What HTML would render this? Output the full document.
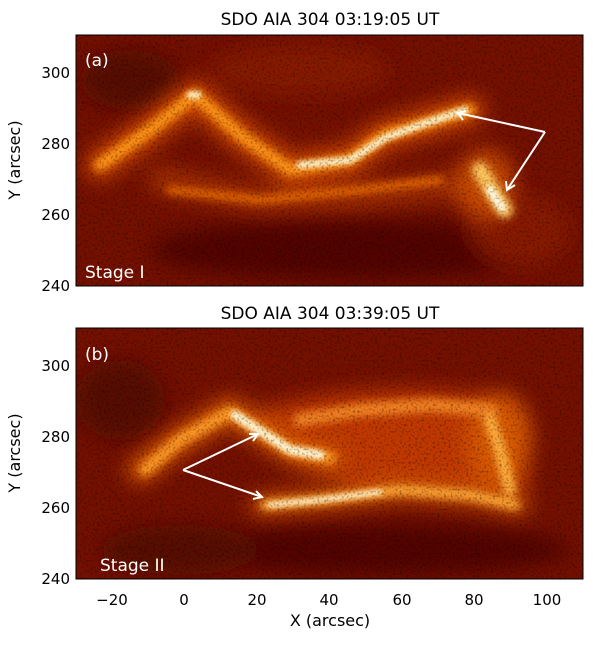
<!DOCTYPE html>
<html><head><style>
body{margin:0;background:#fff;width:600px;height:642px;overflow:hidden;font-family:"DejaVu Sans","Liberation Sans",sans-serif}
</style></head><body>
<svg width="600" height="642" viewBox="0 0 600 642" xmlns="http://www.w3.org/2000/svg" font-family="DejaVu Sans, Liberation Sans, sans-serif">
<defs>
<filter id="b4" filterUnits="userSpaceOnUse" x="0" y="0" width="600" height="642"><feGaussianBlur stdDeviation="4"/></filter>
<filter id="b8" filterUnits="userSpaceOnUse" x="0" y="0" width="600" height="642"><feGaussianBlur stdDeviation="10"/></filter>
<filter id="b2" filterUnits="userSpaceOnUse" x="0" y="0" width="600" height="642"><feGaussianBlur stdDeviation="2.5"/></filter>
<filter id="noise" x="0" y="0" width="100%" height="100%">
<feTurbulence type="fractalNoise" baseFrequency="0.45" numOctaves="1" seed="3"/>
<feColorMatrix values="0 0 0 0 0  0 0 0 0 0  0 0 0 0 0  0 0 0 -1.2 0.6"/>
</filter>
<clipPath id="ca"><rect x="76" y="35" width="507" height="251"/></clipPath>
<clipPath id="cb"><rect x="76" y="328" width="507" height="251"/></clipPath>
</defs>

<g clip-path="url(#ca)">
<rect x="76" y="35" width="507" height="251" fill="#741000"/>
<g filter="url(#b8)" opacity="0.8">
<ellipse cx="350" cy="250" rx="200" ry="30" fill="#4a0600"/>
<ellipse cx="130" cy="80" rx="50" ry="30" fill="#500700"/>
<ellipse cx="300" cy="70" rx="90" ry="25" fill="#8a1c00"/>
<ellipse cx="520" cy="230" rx="50" ry="35" fill="#8c1e00"/>
</g>
<g filter="url(#b8)" fill="none" stroke-linecap="round" stroke-linejoin="round">
<polyline points="100,165 150,130 195,95 240,135 290,170 350,160 385,135 420,125 470,110" stroke="#d04a00" stroke-width="30"/>
<polyline points="160,180 260,200 360,195 450,185" stroke="#a83000" stroke-width="24"/>
<ellipse cx="485" cy="185" rx="30" ry="36" fill="#c84800" stroke="none"/>
</g>
<g filter="url(#b4)" fill="none" stroke-linecap="round" stroke-linejoin="round">
<polyline points="100,165 150,130 195,95 240,135 290,170 350,160 385,135 420,125 470,110" stroke="#ff9418" stroke-width="12"/>
<polyline points="170,190 260,200 360,190 440,180" stroke="#f07000" stroke-width="7"/>
<polyline points="480,170 495,195 505,210" stroke="#ffc860" stroke-width="16"/>
</g>
<g filter="url(#b2)" fill="none" stroke-linecap="round">
<polyline points="300,165 350,160 385,138 420,125 465,110" stroke="#fff2c8" stroke-width="7"/>
<polyline points="190,95 198,95" stroke="#fff0c0" stroke-width="7"/>
<polyline points="490,190 502,208" stroke="#fff8e0" stroke-width="8"/>
</g>
<rect x="76" y="35" width="507" height="251" filter="url(#noise)" fill="#200000"/>
</g>
<rect x="76" y="35" width="507" height="251" fill="none" stroke="#000" stroke-width="1"/>
<g stroke="#fff" stroke-width="2" fill="none">
<polyline points="545,132 458,113"/><polyline points="466,111 458,113 463,120"/>
<polyline points="545,132 507,190"/><polyline points="506,181 507,190 515,185"/>
</g>
<text x="85" y="66" fill="#fff" font-size="17">(a)</text>
<text x="85" y="278" fill="#fff" font-size="17">Stage I</text>
<text x="330" y="25" text-anchor="middle" font-size="17">SDO AIA 304  03:19:05 UT</text>

<g clip-path="url(#cb)">
<rect x="76" y="328" width="507" height="251" fill="#741000"/>
<g filter="url(#b8)" opacity="0.8">
<ellipse cx="120" cy="400" rx="45" ry="40" fill="#500700"/>
<ellipse cx="380" cy="550" rx="190" ry="25" fill="#4a0600"/>
<ellipse cx="180" cy="550" rx="80" ry="25" fill="#500700"/>
</g>
<g filter="url(#b8)" fill="none" stroke-linecap="round" stroke-linejoin="round">
<path d="M230,420 C300,390 420,380 520,400 L530,490 L420,500 L300,470 Z" fill="#c03800" stroke="none"/>
<polyline points="140,470 180,440 230,410 290,450 330,460" stroke="#d85800" stroke-width="26"/>
<polyline points="260,505 320,500 400,490 470,495 520,505" stroke="#d05400" stroke-width="20"/>
<ellipse cx="500" cy="440" rx="32" ry="48" fill="#d85800" stroke="none"/>
</g>
<g filter="url(#b4)" fill="none" stroke-linecap="round" stroke-linejoin="round">
<polyline points="145,470 180,440 230,412 290,450 330,458" stroke="#ff9a28" stroke-width="12"/>
<polyline points="300,420 360,410 430,405 490,410" stroke="#f08020" stroke-width="14"/>
<polyline points="265,505 320,500 400,490 470,495 515,505" stroke="#ffa838" stroke-width="10"/>
<polyline points="490,420 500,450 510,490" stroke="#ffb040" stroke-width="12"/>
</g>
<g filter="url(#b2)" fill="none" stroke-linecap="round">
<polyline points="235,415 290,450 320,455" stroke="#fff2cc" stroke-width="9"/>
<polyline points="270,505 320,500 380,492" stroke="#fff0c8" stroke-width="5"/>
</g>
<rect x="76" y="328" width="507" height="251" filter="url(#noise)" fill="#200000"/>
</g>
<rect x="76" y="328" width="507" height="251" fill="none" stroke="#000" stroke-width="1"/>
<g stroke="#fff" stroke-width="2" fill="none">
<polyline points="183,470 258,434"/><polyline points="249,434 258,434 253,441"/>
<polyline points="183,470 262,497"/><polyline points="256,491 262,497 253,499"/>
</g>
<text x="85" y="360" fill="#fff" font-size="17">(b)</text>
<text x="100" y="571" fill="#fff" font-size="17">Stage II</text>
<text x="330" y="319" text-anchor="middle" font-size="17">SDO AIA 304  03:39:05 UT</text>

<g font-size="15" text-anchor="end">
<text x="70" y="78">300</text><text x="70" y="149">280</text><text x="70" y="220">260</text><text x="70" y="291">240</text>
<text x="70" y="371">300</text><text x="70" y="442">280</text><text x="70" y="513">260</text><text x="70" y="584">240</text>
</g>
<g font-size="15" text-anchor="middle">
<text x="112" y="605">−20</text><text x="184" y="605">0</text><text x="257" y="605">20</text><text x="329" y="605">40</text>
<text x="402" y="605">60</text><text x="474" y="605">80</text><text x="547" y="605">100</text>
<text x="330" y="626" font-size="16">X (arcsec)</text>
</g>
<text transform="translate(20,160) rotate(-90)" font-size="16" text-anchor="middle">Y (arcsec)</text>
<text transform="translate(20,453) rotate(-90)" font-size="16" text-anchor="middle">Y (arcsec)</text>
</svg>
</body></html>
